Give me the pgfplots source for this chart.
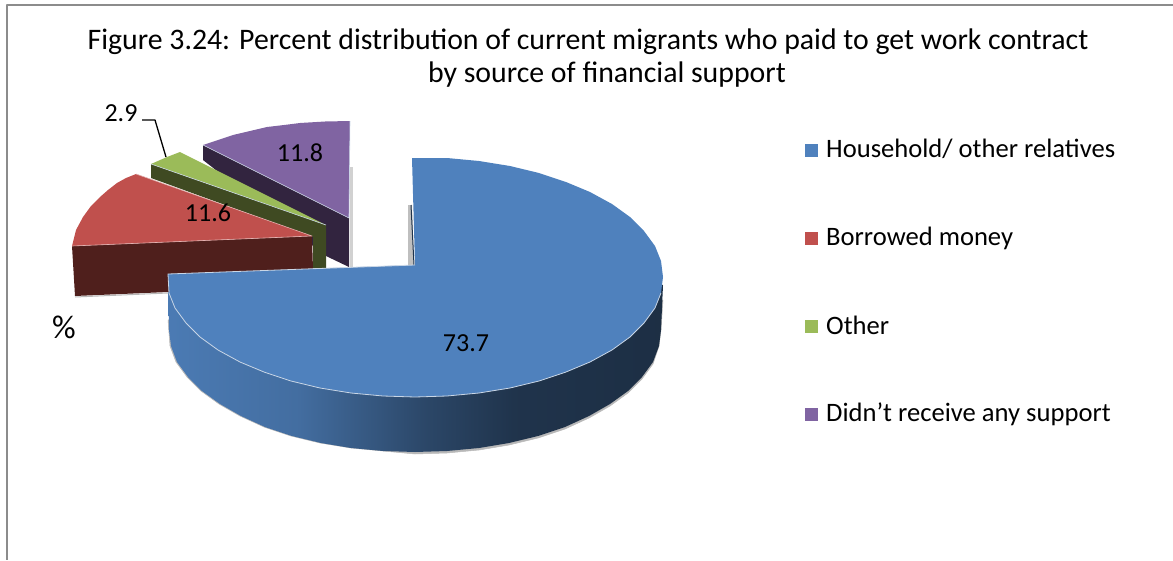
\documentclass[border=0pt]{standalone}
\usepackage{pgfplots}
\pgfplotsset{compat=1.18}
\usepackage{fontspec}
\setmainfont{Carlito}
\definecolor{cblue}{HTML}{4F81BD}
\definecolor{cred}{HTML}{C0504D}
\definecolor{cgreen}{HTML}{9BBB59}
\definecolor{cpurple}{HTML}{8064A2}
\definecolor{dred}{HTML}{4F1F1C}
\definecolor{dgreen}{HTML}{3F4A22}
\definecolor{dpurple}{HTML}{32243F}
\definecolor{frame}{HTML}{8C8C8C}
\definecolor{sh}{HTML}{B8B8B8}
\definecolor{rim}{HTML}{C9D6E6}
\pgfdeclarehorizontalshading{sidegrad}{100bp}{color(0bp)=(cblue);color(25bp)=(cblue!95!black);color(38bp)=(cblue!85!black);color(51bp)=(cblue!55!black);color(60bp)=(cblue!40!black);color(75bp)=(cblue!36!black);color(100bp)=(cblue!36!black)}
\begin{document}
\begin{tikzpicture}
\begin{axis}[
  name=ax,
  scale only axis, width=1173pt, height=560pt,
  xmin=0, xmax=1173, ymin=0, ymax=560, y dir=reverse,
  axis lines=none, clip=false, xtick=\empty, ytick=\empty,
  every axis plot/.append style={line join=round},
]
% frame
\addplot[frame, line width=2.5pt] coordinates {(1173,5) (7,5) (7,560)};
% shadow of blue side
\addplot[sh, fill=sh, line width=0.5pt] coordinates {(168,320) (170,346) (176,362) (187,377) (201,391) (219,404) (240,416) (264,427) (291,436) (320,443) (351,448) (383,451) (415,454) (447,453) (479,450) (509,445) (538,438) (565,429) (589,418) (610,406) (628,393) (642,379) (653,364) (659,346) (661,330) (663,300) (415,300)} -- cycle;
% blue side
\addplot[draw=none, shade, shading=sidegrad] coordinates {(663,285) (661,330) (659,346) (653,362) (642,377) (628,391) (610,404) (589,416) (565,427) (538,436) (509,443) (479,448) (447,451) (415,452) (383,451) (351,448) (321,443) (292,436) (265,427) (241,416) (220,404) (202,391) (188,377) (177,362) (171,346) (169,330) (168,276) (415,276)} -- cycle;
% purple slice
\addplot[fill=black!18, draw=none] coordinates {(350,167) (353,167) (353,267) (350,267)} -- cycle;
\addplot[fill=dpurple, draw=none] coordinates {(203,145) (349,218) (349,267) (326,256) (203,160)} -- cycle;
\addplot[fill=cpurple, draw=none] coordinates {(203,145) (218,140) (233,135) (250,131) (267,127) (284,125) (300,123) (325,121.5) (350,121) (349,218)} -- cycle;
\addplot[rim, line width=0.6pt] coordinates {(203,145) (349,218) (350,121)};
% green slice
\addplot[fill=dgreen, draw=none] coordinates {(151,164) (326,225) (326,268) (313,268) (313,237) (151,178)} -- cycle;
\addplot[fill=cgreen, draw=none] coordinates {(151,164) (167,157) (180,152) (326,225)} -- cycle;
\addplot[rim, line width=0.6pt] coordinates {(151,164) (326,225)};
% red slice
\addplot[sh, line width=1pt] coordinates {(75,297) (168,293)};
\addplot[fill=dred, draw=none] coordinates {(72,246) (312,236) (313,270) (168,292) (75,296)} -- cycle;
\addplot[fill=cred, draw=none] coordinates {(72,246) (76,230) (83,217) (91,206) (100,197) (108,190) (117,183) (126,178) (136,174) (312,236)} -- cycle;
\addplot[draw=cred!45!white, line width=0.6pt] coordinates {(136,174) (312,236) (72,246)};
% blue wall behind the gap
\addplot[fill=black!25, draw=none] coordinates {(408,205) (412,205) (414,265) (408,265)} -- cycle;
\addplot[color=cblue!40!black, line width=1pt] coordinates {(411,205) (414,265)};
% blue top face
\addplot[fill=cblue, draw=none] coordinates {(412,158) (447,158) (479,161) (510,166) (539,173) (566,182) (590,192) (612,204) (630,217) (644,231) (655,246) (661,261) (663,277) (661,293) (655,308) (644,323) (630,337) (612,350) (590,362) (566,372) (539,381) (510,388) (479,393) (447,396) (415,397) (383,396) (351,393) (320,388) (291,381) (264,372) (240,362) (218,350) (200,337) (186,323) (175,308) (169,293) (168,274) (415,265)} -- cycle;
\addplot[rim, line width=0.8pt] coordinates {(661,293) (655,308) (644,323) (630,337) (612,350) (590,362) (566,372) (539,381) (510,388) (479,393) (447,396) (415,397) (383,396) (351,393) (320,388) (291,381) (264,372) (240,362) (218,350) (200,337) (186,323) (175,308) (169,293) (168,274) (415,265)};
% leader
\addplot[black, line width=1.3pt] coordinates {(142,120) (155,120) (166,157)};
% value labels
\node[font=\fontsize{26}{26}\selectfont] at (axis cs:466,343) {73.7};
\node[font=\fontsize{26}{26}\selectfont] at (axis cs:208,213) {11.6};
\node[font=\fontsize{26}{26}\selectfont] at (axis cs:300,153) {11.8};
\node[font=\fontsize{26}{26}\selectfont] at (axis cs:121,113) {2.9};
\node[font=\fontsize{33}{33}\selectfont] at (axis cs:64,327) {\%};
% title
\node[font=\fontsize{29.8}{33}\selectfont] at (axis cs:588,42) {Figure 3.24: Percent distribution of current migrants who paid to get work contract};
\node[font=\fontsize{29.8}{33}\selectfont] at (axis cs:607,75) {by source of financial support};
% legend
\addplot[fill=cblue, draw=none] coordinates {(805,144) (818,144) (818,157) (805,157)} -- cycle;
\addplot[fill=cred, draw=none] coordinates {(805,232) (818,232) (818,245) (805,245)} -- cycle;
\addplot[fill=cgreen, draw=none] coordinates {(805,320) (818,320) (818,333) (805,333)} -- cycle;
\addplot[fill=cpurple, draw=none] coordinates {(805,408) (818,408) (818,421) (805,421)} -- cycle;
\node[font=\fontsize{26.6}{26.6}\selectfont, anchor=west, inner sep=0pt] at (axis cs:826,149) {Household/ other relatives};
\node[font=\fontsize{26.6}{26.6}\selectfont, anchor=west, inner sep=0pt] at (axis cs:826,238) {Borrowed money};
\node[font=\fontsize{26.6}{26.6}\selectfont, anchor=west, inner sep=0pt] at (axis cs:826,325) {Other};
\node[font=\fontsize{26.6}{26.6}\selectfont, anchor=west, inner sep=0pt] at (axis cs:826,414) {Didn't receive any support};
\end{axis}
\pgfresetboundingbox
\useasboundingbox (ax.south west) rectangle (ax.north east);
\end{tikzpicture}
\end{document}
